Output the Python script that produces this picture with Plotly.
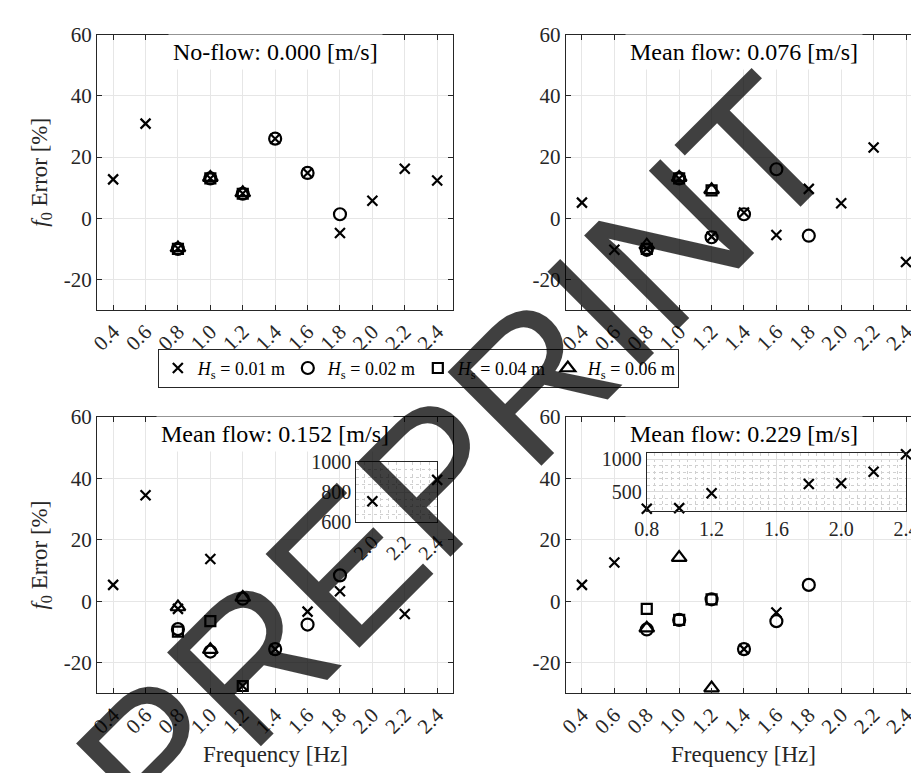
import plotly.graph_objects as go

# ---------------- data ----------------
freq = [0.4, 0.6, 0.8, 1.0, 1.2, 1.4, 1.6, 1.8, 2.0, 2.2, 2.4]
freq_labels = ["0.4", "0.6", "0.8", "1.0", "1.2", "1.4", "1.6", "1.8", "2.0", "2.2", "2.4"]
y_ticks = [-20, 0, 20, 40, 60]

panel_titles = ["No-flow: 0.000 [m/s]", "Mean flow: 0.076 [m/s]",
                "Mean flow: 0.152 [m/s]", "Mean flow: 0.229 [m/s]"]
series_names = ["<i>H</i><sub>s</sub> = 0.01 m", "<i>H</i><sub>s</sub> = 0.02 m",
                "<i>H</i><sub>s</sub> = 0.04 m", "<i>H</i><sub>s</sub> = 0.06 m"]

N = None
# No-flow 0.000 m/s
p1_hs001 = [12.7, 30.9, -9.9, 13.0, 8.1, 26.0, 14.8, -4.8, 5.7, 16.2, 12.3]
p1_hs002 = [N, N, -10.0, 13.0, 8.0, 26.0, 14.8, 1.3, N, N, N]
p1_hs004 = [N, N, -10.0, 13.0, 8.0, N, N, N, N, N, N]
p1_hs006 = [N, N, -9.7, 13.3, 8.3, N, N, N, N, N, N]
# Mean flow 0.076 m/s
p2_hs001 = [5.1, -10.3, -10.0, 13.0, -6.0, 1.9, -5.5, 9.6, 4.9, 23.1, -14.3]
p2_hs002 = [N, N, -10.3, 13.0, -6.2, 1.3, 16.0, -5.7, N, N, N]
p2_hs004 = [N, N, -10.0, 13.0, 9.1, N, N, N, N, N, N]
p2_hs006 = [N, N, -8.8, 13.3, 9.3, N, N, N, N, N, N]
# Mean flow 0.152 m/s
p3_hs001 = [5.3, 34.5, -2.5, 13.7, -27.6, -15.6, -3.4, 3.2, 738, -4.2, 882]
p3_hs002 = [N, N, -9.1, -16.4, 0.8, -15.6, -7.6, 8.4, N, N, N]
p3_hs004 = [N, N, -9.9, -6.5, -27.6, N, N, N, N, N, N]
p3_hs006 = [N, N, -1.9, -15.8, 1.2, N, N, N, N, N, N]
# Mean flow 0.229 m/s
p4_hs001 = [5.3, 12.6, 235, 244, 474, -15.6, -3.7, 617, 627, 806, 1077]
p4_hs002 = [N, N, -9.2, -6.1, 0.6, -15.6, -6.5, 5.3, N, N, N]
p4_hs004 = [N, N, -2.5, -6.1, 0.6, N, N, N, N, N, N]
p4_hs006 = [N, N, -8.8, 14.2, -28.3, N, N, N, N, N, N]

panels = [
    [p1_hs001, p1_hs002, p1_hs004, p1_hs006],
    [p2_hs001, p2_hs002, p2_hs004, p2_hs006],
    [p3_hs001, p3_hs002, p3_hs004, p3_hs006],
    [p4_hs001, p4_hs002, p4_hs004, p4_hs006],
]

# ---------------- style ----------------
W, H = 919, 773
SERIF = "Liberation Serif, DejaVu Serif, serif"
INK = "#262626"
GRID = "#e6e6e6"
symbols = ["x-thin-open", "circle-open", "square-open", "triangle-up-open"]
sizes = [10, 12, 10, 13]


def fx(p):
    return p / W


def fy(p):
    return 1 - p / H


# pixel geometry of axes boxes
col_px = [(79, 445), (560.4, 919)]
row_px = [(15, 299), (409, 694)]
px_per_unit = (445 - 79) / 2.2
right_max = 0.3 + (919 - 560.4) / px_per_unit

fig = go.Figure()

axis_map = [("x", "y"), ("x2", "y2"), ("x3", "y3"), ("x4", "y4")]
inset_map = {2: ("x5", "y5"), 3: ("x6", "y6")}

for pi, pdata in enumerate(panels):
    xa, ya = axis_map[pi]
    for si, vals in enumerate(pdata):
        xs = [f for f, v in zip(freq, vals) if v is not None and abs(v) < 100]
        ys = [v for v in vals if v is not None and abs(v) < 100]
        fig.add_trace(go.Scatter(
            x=xs, y=ys, mode="markers", xaxis=xa, yaxis=ya,
            name=series_names[si], legendgroup=str(si), showlegend=(pi == 0),
            cliponaxis=False,
            marker=dict(symbol=symbols[si], size=sizes[si], color="black",
                        line=dict(color="black", width=2.2)),
        ))
    if pi in inset_map:
        ixa, iya = inset_map[pi]
        vals = pdata[0]
        xs = [f for f, v in zip(freq, vals) if v is not None and v >= 100]
        ys = [v for v in vals if v is not None and v >= 100]
        fig.add_trace(go.Scatter(
            x=xs, y=ys, mode="markers", xaxis=ixa, yaxis=iya,
            showlegend=False, cliponaxis=False,
            marker=dict(symbol=symbols[0], size=sizes[0], color="black",
                        line=dict(color="black", width=2.2)),
        ))

tickfont = dict(family=SERIF, size=21, color=INK)

def main_x(col, row, anchor):
    c0, c1 = col_px[col]
    return dict(domain=[fx(c0), fx(c1)], anchor=anchor,
                range=[0.3, 2.5 if col == 0 else right_max],
                tickmode="array", tickvals=freq, ticktext=freq_labels, tickangle=-45,
                showline=True, linecolor=INK, linewidth=1, mirror="allticks",
                ticks="inside", ticklen=5, tickcolor=INK,
                showgrid=True, gridcolor=GRID, gridwidth=1, zeroline=False,
                tickfont=tickfont)


def main_y(col, row, anchor):
    r0, r1 = row_px[row]
    return dict(domain=[fy(r1), fy(r0)], anchor=anchor, range=[-30, 60],
                tickmode="array", tickvals=y_ticks, ticktext=[str(t) for t in y_ticks],
                showline=True, linecolor=INK, linewidth=1,
                mirror=("allticks" if col == 0 else False),
                ticks="inside", ticklen=5, tickcolor=INK,
                showgrid=True, gridcolor=GRID, gridwidth=1, zeroline=False,
                tickfont=tickfont)


layout = dict(
    width=W, height=H, margin=dict(l=0, r=0, t=0, b=0),
    paper_bgcolor="white", plot_bgcolor="white",
    font=dict(family=SERIF),
    xaxis=main_x(0, 0, "y"), yaxis=main_y(0, 0, "x"),
    xaxis2=main_x(1, 0, "y2"), yaxis2=main_y(1, 0, "x2"),
    xaxis3=main_x(0, 1, "y3"), yaxis3=main_y(0, 1, "x3"),
    xaxis4=main_x(1, 1, "y4"), yaxis4=main_y(1, 1, "x4"),
)

inset_font = dict(family=SERIF, size=20, color=INK)
inset_common = dict(showline=True, linecolor=INK, linewidth=1, mirror=True,
                    ticks="", showgrid=True, gridcolor="#dcdcdc", zeroline=False,
                    tickfont=inset_font)
# inset in panel 3 (x 1.9-2.4, y 600-1000)
layout["xaxis5"] = dict(inset_common, domain=[fx(79 + 1.6 * px_per_unit), fx(79 + 2.1 * px_per_unit)],
                        anchor="y5", range=[1.9, 2.4], tickvals=[2.0, 2.2, 2.4],
                        ticktext=["2.0", "2.2", "2.4"], tickangle=-45,
                        minor=dict(dtick=0.05, showgrid=True, gridcolor="#d0d0d0", griddash="dot"))
layout["yaxis5"] = dict(inset_common, domain=[fy(517), fy(456)], anchor="x5",
                        range=[600, 1000], tickvals=[600, 800, 1000],
                        minor=dict(dtick=50, showgrid=True, gridcolor="#d0d0d0", griddash="dot"))
# inset in panel 4 (x 0.8-2.4, y 200-1100)
layout["xaxis6"] = dict(inset_common, domain=[fx(560.4 + 0.5 * px_per_unit), fx(560.4 + 2.1 * px_per_unit)],
                        anchor="y6", range=[0.8, 2.4], tickvals=[0.8, 1.2, 1.6, 2.0, 2.4],
                        ticktext=["0.8", "1.2", "1.6", "2.0", "2.4"], tickangle=0,
                        minor=dict(dtick=0.05, showgrid=True, gridcolor="#d0d0d0", griddash="dot"))
layout["yaxis6"] = dict(inset_common, domain=[fy(506), fy(446)], anchor="x6",
                        range=[200, 1100], tickvals=[500, 1000],
                        minor=dict(dtick=100, showgrid=True, gridcolor="#d0d0d0", griddash="dot"))

annotations = []
# panel titles
for pi, t in enumerate(panel_titles):
    col, row = pi % 2, pi // 2
    cx = (col_px[col][0] + (445 if col == 0 else 926)) / 2
    cy = row_px[row][0] + 18
    annotations.append(dict(text=t, x=fx(cx), y=fy(cy), xref="paper", yref="paper",
                            showarrow=False, xanchor="center", yanchor="middle",
                            bgcolor="white", borderpad=4,
                            font=dict(family=SERIF, size=24, color="black")))
# axis titles
for row in range(2):
    cy = (row_px[row][0] + row_px[row][1]) / 2
    annotations.append(dict(text="<i>f</i><sub>0</sub> Error [%]", x=fx(22), y=fy(cy),
                            xref="paper", yref="paper", showarrow=False, textangle=-90,
                            xanchor="center", yanchor="middle",
                            font=dict(family=SERIF, size=23, color=INK)))
for col, cx in enumerate([262, 743]):
    annotations.append(dict(text="Frequency [Hz]", x=fx(cx), y=fy(757),
                            xref="paper", yref="paper", showarrow=False,
                            xanchor="center", yanchor="middle",
                            font=dict(family=SERIF, size=23, color=INK)))
# watermark
annotations.append(dict(text="PREPRINT", x=fx(448), y=fy(449), xref="paper", yref="paper",
                        showarrow=False, textangle=-45, xanchor="center", yanchor="middle",
                        font=dict(family="Liberation Sans", size=193,
                                  color="rgba(0,0,0,0.75)")))
layout["annotations"] = annotations

layout["legend"] = dict(orientation="h", x=fx(409), y=fy(359), xanchor="center", yanchor="middle",
                        bgcolor="white", bordercolor=INK, borderwidth=1,
                        font=dict(family=SERIF, size=18, color="black"),
                        itemwidth=30, tracegroupgap=0, entrywidth=85)

fig.update_layout(**layout)
fig.write_html("out.html")
